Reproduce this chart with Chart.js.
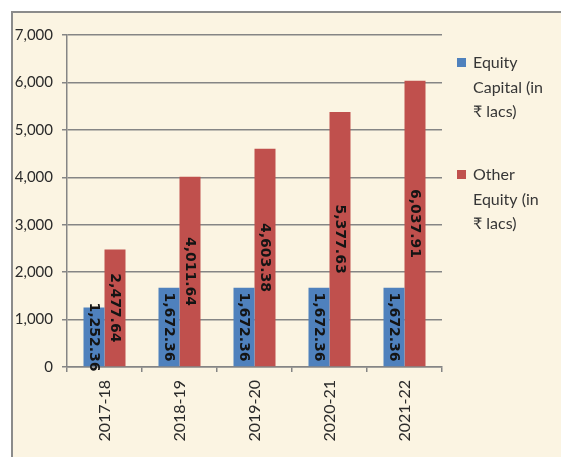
<!DOCTYPE html>
<html><head><meta charset="utf-8">
<script src="https://cdn.jsdelivr.net/npm/chart.js@4/dist/chart.umd.min.js"></script>
<style>
html,body{margin:0;padding:0;background:#fff;width:561px;height:457px;overflow:hidden;}
#frame{position:absolute;left:11px;top:11px;width:600px;height:500px;border-top:2px solid #8b8b8b;border-left:2px solid #8b8b8b;background:#fbf4e2;}
#wrap{position:absolute;left:0;top:0;width:561px;height:457px;}
</style></head><body>
<div id="frame"></div>
<div id="wrap"><canvas id="c" width="561" height="457"></canvas></div>
<script>
const categories = ['2017-18', '2018-19', '2019-20', '2020-21', '2021-22'];
const equityCapital = [1252.36, 1672.36, 1672.36, 1672.36, 1672.36];
const otherEquity = [2477.64, 4011.64, 4603.38, 5377.63, 6037.91];
const seriesNames = [['Equity', 'Capital (in', '₹ lacs)'], ['Other', 'Equity (in', '₹ lacs)']];
const yTickValues = [0, 1000, 2000, 3000, 4000, 5000, 6000, 7000];

const gridColor = '#858585';

const valueLabels = {
  id: 'valueLabels',
  afterDatasetsDraw(chart) {
    const ctx = chart.ctx;
    chart.data.datasets.forEach((ds, i) => {
      const meta = chart.getDatasetMeta(i);
      meta.data.forEach((bar, j) => {
        const v = ds.data[j];
        const cy = (bar.y + bar.base) / 2;
        ctx.save();
        ctx.translate(bar.x, cy);
        ctx.rotate(Math.PI / 2);
        ctx.font = 'bold 14px "DejaVu Sans"';
        ctx.fillStyle = '#141414';
        ctx.textAlign = 'center';
        ctx.textBaseline = 'middle';
        ctx.fillText(v.toLocaleString('en-US', {minimumFractionDigits: 2, maximumFractionDigits: 2}), 0, 0);
        ctx.restore();
      });
    });
  }
};

const sideLegend = {
  id: 'sideLegend',
  afterDraw(chart) {
    const ctx = chart.ctx;
    const x0 = chart.chartArea.right + 15;
    const tops = [63, 175];
    chart.data.datasets.forEach((ds, i) => {
      const cy = tops[i];
      ctx.save();
      ctx.fillStyle = ds.backgroundColor;
      ctx.fillRect(x0, cy - 5, 9, 9);
      ctx.font = '16px Lato';
      ctx.fillStyle = '#363636';
      ctx.textAlign = 'left';
      ctx.textBaseline = 'middle';
      seriesNames[i].forEach((line, k) => {
        ctx.fillText(line, x0 + 16, cy + k * 24.5);
      });
      ctx.restore();
    });
  }
};

new Chart(document.getElementById('c'), {
  type: 'bar',
  data: {
    labels: categories,
    datasets: [
      {label: seriesNames[0].join(' '), data: equityCapital, backgroundColor: '#4f81bd', categoryPercentage: 0.56, barPercentage: 1.0},
      {label: seriesNames[1].join(' '), data: otherEquity, backgroundColor: '#c0504d', categoryPercentage: 0.56, barPercentage: 1.0}
    ]
  },
  options: {
    responsive: false,
    animation: false,
    devicePixelRatio: 1,
    layout: {padding: {top: 35, right: 119, bottom: 0, left: 0}},
    plugins: {legend: {display: false}, tooltip: {enabled: false}},
    scales: {
      y: {
        min: 0, max: 7000,
        afterFit: s => { s.width = 67; },
        afterBuildTicks: s => { s.ticks = yTickValues.map(v => ({value: v})); },
        ticks: {
          font: {family: 'Lato', size: 15},
          color: '#2a2a2a',
          padding: 9,
          callback: v => v.toLocaleString('en-US')
        },
        grid: {color: gridColor, lineWidth: 1.5, tickLength: 5},
        border: {display: true, color: gridColor, width: 1.5}
      },
      x: {
        afterFit: s => { s.height = 90; },
        ticks: {
          font: {family: 'Lato', size: 16},
          color: '#2a2a2a',
          minRotation: 90, maxRotation: 90,
          padding: 8
        },
        grid: {drawOnChartArea: false, color: gridColor, lineWidth: 1.5, tickLength: 5},
        border: {display: true, color: gridColor, width: 1.5}
      }
    }
  },
  plugins: [valueLabels, sideLegend]
});
</script>
</body></html>
